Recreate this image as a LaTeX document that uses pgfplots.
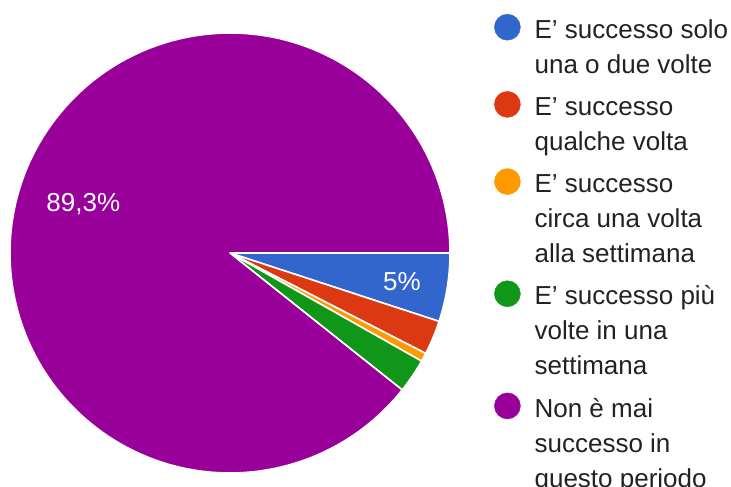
\documentclass[border=0pt]{standalone}
\usepackage{pgfplots}
\pgfplotsset{compat=1.18}
\usepackage{pgfplotstable}
\usepackage{fontspec}
\setmainfont{Liberation Sans}

\definecolor{cBlue}{HTML}{3366CC}
\definecolor{cRed}{HTML}{DC3912}
\definecolor{cOrange}{HTML}{FF9900}
\definecolor{cGreen}{HTML}{109618}
\definecolor{cPurple}{HTML}{990099}
\definecolor{txt}{HTML}{222222}

% answers (counts), clockwise from 3 o'clock
\pgfplotstableread{
idx count
0 8
1 4
2 1
3 4
4 142
}\piedata

\tikzset{
  pie0/.style={fill=cBlue},
  pie1/.style={fill=cRed},
  pie2/.style={fill=cOrange},
  pie3/.style={fill=cGreen},
  pie4/.style={fill=cPurple},
}
\pgfplotsset{
  piedot/.style={legend image code/.code={\fill[#1] (13bp,-15.5bp) circle[radius=13bp];}},
}
% fixed top room of each legend entry
\newcommand\topr{\rule{0pt}{24.5bp}}

% start / end angles of every slice
\gdef\pietotal{0}
\pgfplotstableforeachcolumnelement{count}\of\piedata\as\v{%
  \pgfmathparse{\pietotal+\v}\xdef\pietotal{\pgfmathresult}}
\gdef\piecum{0}
\pgfplotstableforeachcolumnelement{count}\of\piedata\as\v{%
  \pgfmathparse{-360*(\piecum/\pietotal)}%
  \expandafter\xdef\csname pieS\pgfplotstablerow\endcsname{\pgfmathresult}%
  \pgfmathparse{\piecum+\v}\xdef\piecum{\pgfmathresult}%
  \pgfmathparse{-360*(\piecum/\pietotal)}%
  \expandafter\xdef\csname pieE\pgfplotstablerow\endcsname{\pgfmathresult}}

\begin{document}
\begin{tikzpicture}
\useasboundingbox (0,0) rectangle (731bp,487bp);
\begin{axis}[
    at={(0,0)}, anchor=south west,
    x=1bp, y=1bp,
    xmin=-230, xmax=501, ymin=-234, ymax=253,
    hide axis, clip=false,
    legend style={at={(axis cs:264,241.5)}, anchor=north west,
        draw=none, fill=none, inner sep=0pt,
        /tikz/row sep=12bp, /tikz/column sep=12bp,
        cells={anchor=north west, align=left, inner sep=0pt},
        font=\fontsize{26bp}{35bp}\selectfont, text=txt},
    ]
\addlegendimage{piedot=cBlue}
\addlegendentry{\topr E’ successo solo\\una o due volte}
\addlegendimage{piedot=cRed}
\addlegendentry{\topr E’ successo\\qualche volta}
\addlegendimage{piedot=cOrange}
\addlegendentry{\topr E’ successo\\circa una volta\\alla settimana}
\addlegendimage{piedot=cGreen}
\addlegendentry{\topr E’ successo più\\volte in una\\settimana}
\addlegendimage{piedot=cPurple}
\addlegendentry{\topr Non è mai\\successo in\\questo periodo}

\pgfplotsinvokeforeach{0,...,4}{
  \fill[pie#1, draw=white, line width=1.6bp, line join=round]
    (axis cs:0,0) -- ++(\csname pieS#1\endcsname:220bp)
    arc[start angle=\csname pieS#1\endcsname,
        end angle=\csname pieE#1\endcsname, radius=220bp] -- cycle;
}

\node[anchor=base, text=white, font=\fontsize{26bp}{30bp}\selectfont]
  at (axis cs:172,-37) {5\%};
\node[anchor=base, text=white, font=\fontsize{26bp}{30bp}\selectfont]
  at (axis cs:-146.7,41.3) {89,3\%};
\end{axis}
\end{tikzpicture}
\end{document}
